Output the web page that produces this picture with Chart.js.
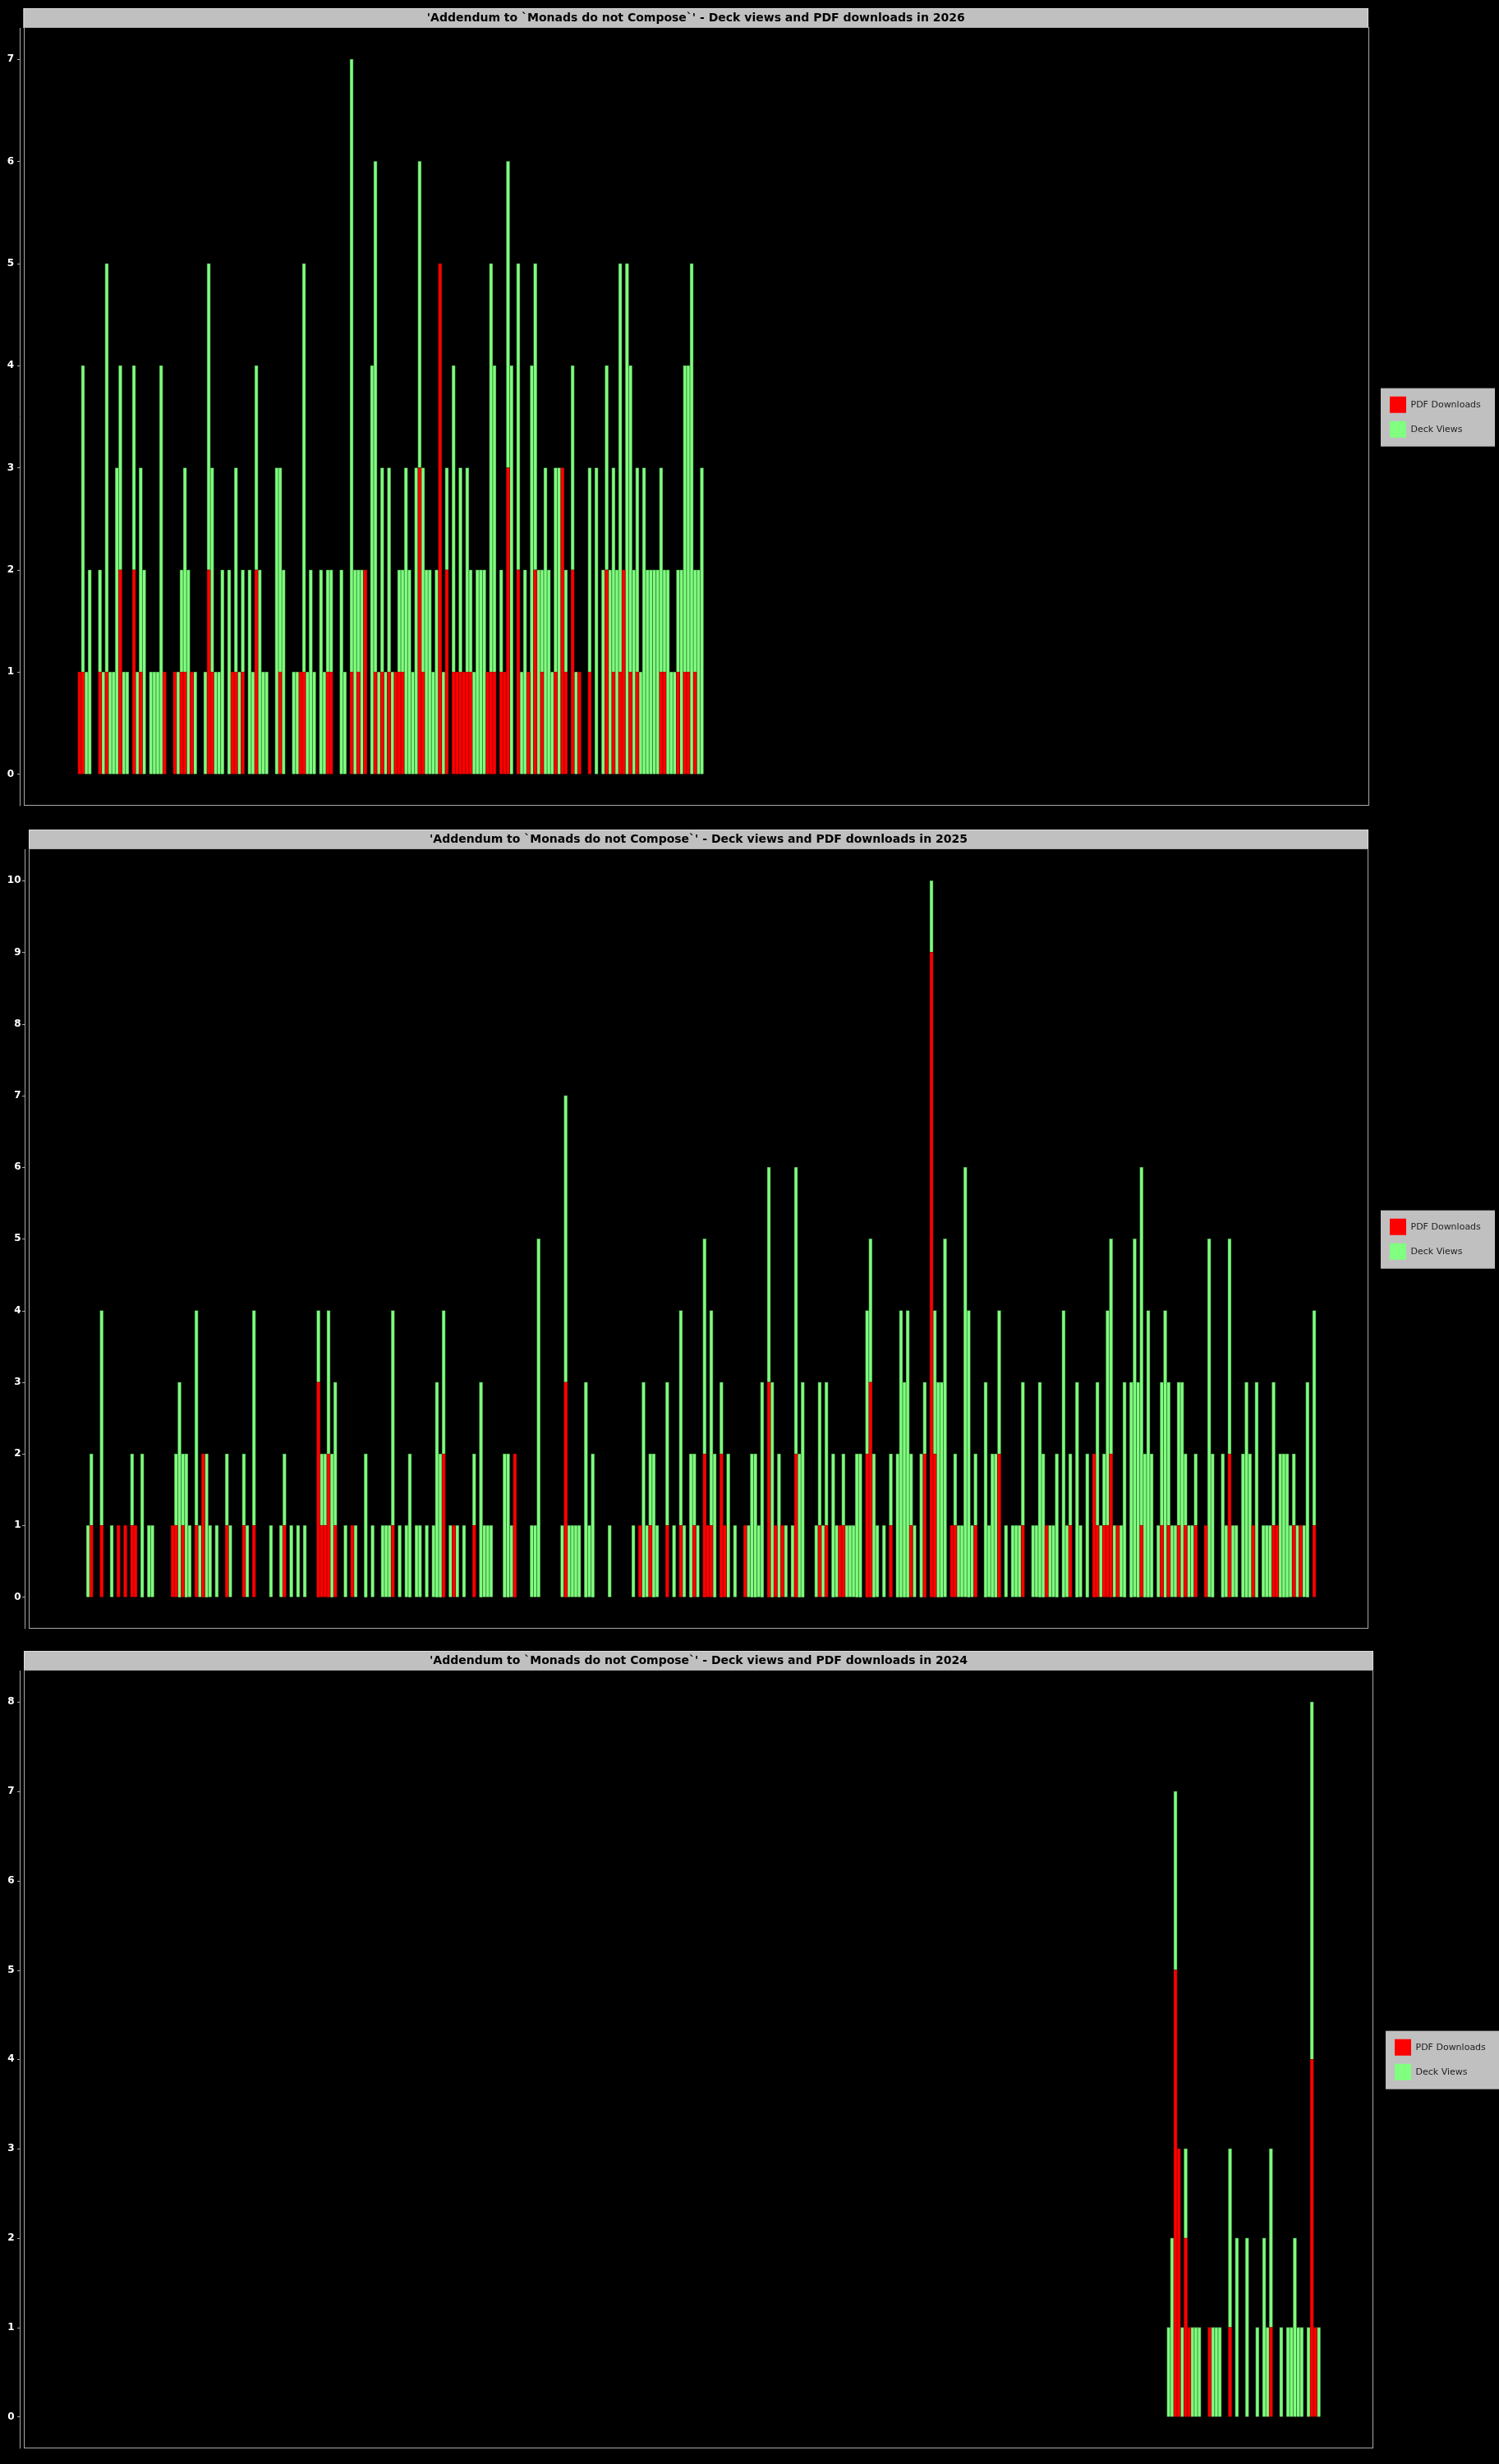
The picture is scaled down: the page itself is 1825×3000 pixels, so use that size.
<!DOCTYPE html>
<html><head><meta charset="utf-8">
<script src="https://cdn.jsdelivr.net/npm/chart.js@4.4.1/dist/chart.umd.min.js"></script>
<style>
html,body{margin:0;padding:0;background:#000;}
body{width:1825px;height:3000px;position:relative;overflow:hidden;}
canvas{position:absolute;left:0;}
</style></head><body>
<canvas id="c2026" width="1825" height="1000" style="top:0px;width:1825px;height:1000px"></canvas>
<canvas id="c2025" width="1825" height="1000" style="top:1000px;width:1825px;height:1000px"></canvas>
<canvas id="c2024" width="1825" height="1000" style="top:2000px;width:1825px;height:1000px"></canvas>
<script>
// ---------- data ----------
const seriesNames = ['PDF Downloads', 'Deck Views'];
const titlePrefix = "'Addendum to `Monads do not Compose`' - Deck views and PDF downloads in ";

// 2026: day-of-year starting at startDay2026
const startDay2026 = 1;
const pdf2026 = [
 1,1,0,0,0,0,1,0,1,0, 0,0,2,0,0,0,2,0,1,0, 0,0,0,0,0,1,0,0,1,0, 1,1,0,1,0,0,0,0,2,1,
 0,0,0,0,0,1,1,0,1,0, 0,0,2,0,0,0,0,0,0,1, 0,0,0,0,0,1,1,0,0,0, 0,0,0,1,1,0,0,0,0,0,
 1,0,1,0,2,0,0,1,0,1, 0,1,0,1,1,1,0,0,0,0, 3,1,0,0,0,0,5,0,2,0, 1,1,1,1,1,1,0,0,0,0,
 1,1,1,0,1,1,3,0,0,2, 0,0,1,0,2,0,1,0,0,0, 1,0,3,1,0,2,0,1,0,0, 1,0,0,0,0,2,0,1,0,1,
 2,0,1,0,1,0,0,0,0,0, 0,1,1,0,0,0,1,0,1,1, 0,1,0,0
];
const views2026 = [
 0,3,1,2,0,0,1,1,4,1, 1,3,2,1,1,0,2,1,2,2, 0,1,1,1,4,0,0,0,0,1, 1,2,2,0,1,0,0,1,3,2,
 1,1,2,0,2,0,2,1,1,0, 2,1,2,2,1,1,0,0,3,2, 2,0,0,1,1,0,4,1,2,1, 0,2,1,1,1,0,0,2,1,0,
 6,2,1,2,0,0,4,5,1,2, 1,2,1,0,1,1,3,2,1,3, 3,2,2,2,1,2,0,1,1,0, 3,0,2,0,2,1,1,2,2,2,
 0,4,3,0,1,0,3,4,0,3, 1,2,0,4,3,2,1,3,2,1, 2,3,0,1,0,2,1,0,0,0, 2,0,3,0,2,2,2,2,2,4,
 0,5,3,2,2,1,3,2,2,2, 2,2,1,2,1,1,1,2,3,3, 5,1,2,3
];
const yTicks2026 = [0,1,2,3,4,5,6,7];

// 2025
const startDay2025 = 2;
const pdf2025 = [
 0,1,0,0,1,0,0,0,0,1, 0,1,0,1,1,0,0,0,0,0, 0,0,0,0,0,1,1,0,1,0, 0,0,1,0,2,0,0,0,0,0,
 0,1,0,0,0,0,1,0,0,1, 0,0,0,0,0,0,0,0,1,0, 0,0,0,0,0,0,0,0,3,1, 1,2,0,1,0,0,0,0,1,0,
 0,0,0,0,0,0,0,0,0,0, 1,0,0,0,0,0,0,0,0,0, 0,0,0,0,0,2,0,0,1,0, 0,0,0,0,1,0,0,0,0,0,
 0,0,0,0,0,0,2,0,0,0, 0,0,0,0,0,0,0,0,0,0, 0,3,0,0,0,0,0,0,0,0, 0,0,0,0,0,0,0,0,0,0,
 0,0,0,1,0,0,1,0,0,0, 0,1,0,0,0,1,0,0,0,1, 0,0,2,1,1,0,0,2,1,0, 0,0,0,0,1,0,0,0,0,0,
 0,3,0,1,0,1,0,0,0,2, 0,0,0,0,0,0,1,0,1,0, 0,0,1,1,0,0,0,0,0,0, 2,3,0,0,0,0,0,1,0,0,
 0,0,0,1,0,0,0,2,0,9, 2,0,0,0,0,1,1,0,0,0, 0,0,1,0,0,0,0,0,0,2, 0,0,0,0,0,0,1,0,0,0,
 0,0,0,1,0,0,0,0,0,0, 1,0,0,0,0,0,0,2,1,0, 1,1,2,0,1,0,0,0,0,0, 0,1,0,0,0,0,0,1,0,1,
 0,0,1,0,1,0,0,1,0,0, 1,0,0,0,0,0,0,2,0,0, 0,0,0,0,1,0,0,0,0,0, 1,1,0,0,0,0,1,0,1,0,
 0,0,1
];
const views2025 = [
 1,1,0,0,3,0,0,1,0,0, 0,0,0,1,0,0,2,0,1,1, 0,0,0,0,0,0,1,3,1,2, 1,0,3,1,0,2,1,0,1,0,
 0,1,1,0,0,0,1,1,0,3, 0,0,0,0,1,0,0,1,1,0, 1,0,1,0,1,0,0,0,1,1, 1,2,2,2,0,0,1,0,0,1,
 0,0,2,0,1,0,0,1,1,1, 3,0,1,0,1,2,0,1,1,0, 1,0,1,3,2,2,0,1,0,1, 0,1,0,0,1,0,3,1,1,1,
 0,0,0,2,2,1,0,0,0,0, 0,1,1,5,0,0,0,0,0,0, 1,4,1,1,1,1,0,3,1,2, 0,0,0,0,1,0,0,0,0,0,
 0,1,0,0,3,1,1,2,1,0, 0,2,0,1,0,3,1,0,2,1, 1,0,3,0,3,2,0,1,0,2, 0,1,0,0,0,1,2,2,1,3,
 0,3,3,0,2,0,1,0,1,4, 2,3,0,0,0,1,2,1,2,0, 2,1,0,1,1,1,1,2,2,0, 2,2,2,1,0,1,0,1,0,2,
 4,3,4,1,1,0,2,1,0,1, 2,3,3,5,0,0,1,1,1,6, 4,1,1,0,0,3,1,2,2,2, 0,1,0,1,1,1,2,0,0,1,
 1,3,2,0,1,1,2,0,4,1, 1,0,3,1,0,2,0,0,2,1, 1,3,3,1,0,1,3,0,3,5, 3,5,2,4,2,0,1,2,4,2,
 1,1,2,3,1,1,1,1,0,0, 0,5,2,0,0,2,1,3,1,1, 0,2,3,2,0,3,0,1,1,1, 2,0,2,2,2,1,1,1,0,1,
 3,0,3
];
const yTicks2025 = [0,1,2,3,4,5,6,7,8,9,10];

// 2024
const startDay2024 = 320;
const pdf2024 = [
 0,0,5,3,0,2,1,0,0,0, 0,0,1,0,0,0,0,0,1,0, 0,0,0,0,0,0,0,0,0,0, 1,0,0,0,0,0,0,0,0,0,
 0,0,4,1,0
];
const views2024 = [
 1,2,2,0,1,1,0,1,1,1, 0,0,0,1,1,1,0,0,2,0, 2,0,0,2,0,0,1,0,2,1, 2,0,0,1,0,1,1,2,1,1,
 0,1,4,0,1
];
const yTicks2024 = [0,1,2,3,4,5,6,7,8];

// ---------- styling / plugin ----------
const decor = {
  id: 'decor',
  beforeLayout(chart, args, opts) {
    const lg = chart.legend;
    if (lg && !lg._fixedW) {
      const f = lg.fit.bind(lg);
      lg.fit = function () { f(); this.width = opts.legendWidth; };
      lg._fixedW = true;
    }
  },
  afterLayout(chart, args, opts) {
    const lg = chart.legend;
    if (lg) { lg.left += opts.legendShift; lg.right += opts.legendShift; }
  },
  beforeDraw(chart, args, opts) {
    const ctx = chart.ctx;
    ctx.save();
    const t = chart.titleBlock;
    ctx.fillStyle = '#c0c0c0';
    ctx.fillRect(t.left, t.top, t.width, t.height);
    ctx.strokeStyle = '#dddddd';
    ctx.lineWidth = 1;
    ctx.strokeRect(t.left + 0.5, t.top + 0.5, t.width - 1, t.height - 1);
    const hb = chart.legend.legendHitBoxes;
    if (hb && hb.length) {
      const x0 = hb[0].left - 11;
      const y0 = hb[0].top - 10;
      const y1 = hb[hb.length - 1].top + hb[hb.length - 1].height + 11;
      ctx.fillStyle = '#c0c0c0';
      ctx.fillRect(x0, y0, 139, y1 - y0);
    }
    ctx.restore();
  },
  afterDraw(chart, args, opts) {
    const ctx = chart.ctx;
    const a = chart.chartArea;
    const y = chart.scales.y;
    ctx.save();
    ctx.strokeStyle = '#a8a8a8';
    ctx.lineWidth = 1;
    ctx.strokeRect(Math.round(a.left) + 0.5, Math.round(a.top) - 0.5, Math.round(a.right - a.left) - 1, Math.round(a.bottom - a.top));
    const sx = Math.round(a.left) - 4.5;
    ctx.beginPath();
    ctx.moveTo(sx, a.top); ctx.lineTo(sx, a.bottom);
    y.ticks.forEach(tk => {
      const py = Math.round(y.getPixelForValue(tk.value)) + 0.5;
      ctx.moveTo(sx - 3.5, py); ctx.lineTo(sx, py);
    });
    ctx.stroke();
    ctx.restore();
  }
};

function makeChart(id, year, startDay, pdf, views, yTicks, axisW, labelPad, legendWidth) {
  const days = pdf.map((_, i) => startDay + i);
  const top = yTicks[yTicks.length - 1];
  const unit = (952 - 77.3) / top;
  const toPts = arr => arr.map((v, i) => ({ x: days[i], y: v === 0 ? null : v }));
  return new Chart(document.getElementById(id), {
    type: 'bar',
    data: {
      datasets: [
        { label: seriesNames[0], data: toPts(pdf), backgroundColor: '#ff0000', borderColor: '#a80000', borderWidth: 0.8 },
        { label: seriesNames[1], data: toPts(views), backgroundColor: '#80ff80', borderColor: '#3c8c3c', borderWidth: 0.8 }
      ]
    },
    options: {
      responsive: false,
      animation: false,
      devicePixelRatio: 1,
      layout: { padding: { top: 10, bottom: 14, left: 0, right: 0 } },
      datasets: { bar: { barPercentage: 1, categoryPercentage: 1, grouped: false } },
      scales: {
        x: { type: 'linear', min: -15.5, max: 380, display: false, stacked: true, offset: false },
        y: {
          stacked: true,
          min: -39 / unit, max: top + 38.3 / unit,
          afterFit: s => { s.width = axisW; },
          afterBuildTicks: s => { s.ticks = yTicks.map(v => ({ value: v })); },
          grid: { display: false, drawTicks: false, tickLength: 0 },
          border: { display: false },
          ticks: { color: '#ffffff', padding: labelPad, font: { family: 'DejaVu Sans', size: 12, weight: 'bold' }, callback: v => String(v) }
        }
      },
      plugins: {
        title: {
          display: true, fullSize: false,
          text: titlePrefix + year,
          color: '#000000',
          font: { family: 'DejaVu Sans', size: 14, weight: 'bold', lineHeight: 1.2 },
          padding: { top: 3.6, bottom: 3.6 }
        },
        legend: {
          display: true, position: 'right', align: 'center', fullSize: false,
          labels: {
            boxWidth: 20, boxHeight: 20, padding: 10, color: '#222222',
            font: { family: 'DejaVu Sans', size: 11 },
            generateLabels: ch => Chart.defaults.plugins.legend.labels.generateLabels(ch).map(l => Object.assign(l, { lineWidth: 0 }))
          }
        },
        tooltip: { enabled: false },
        decor: { legendWidth: legendWidth, legendShift: 16 }
      }
    },
    plugins: [decor]
  });
}

makeChart('c2026', 2026, startDay2026, pdf2026, views2026, yTicks2026, 28.5, 11.5, 159);
makeChart('c2025', 2025, startDay2025, pdf2025, views2025, yTicks2025, 35, 9.5, 159);
makeChart('c2024', 2024, startDay2024, pdf2024, views2024, yTicks2024, 29, 11.5, 153);
</script>
</body></html>
